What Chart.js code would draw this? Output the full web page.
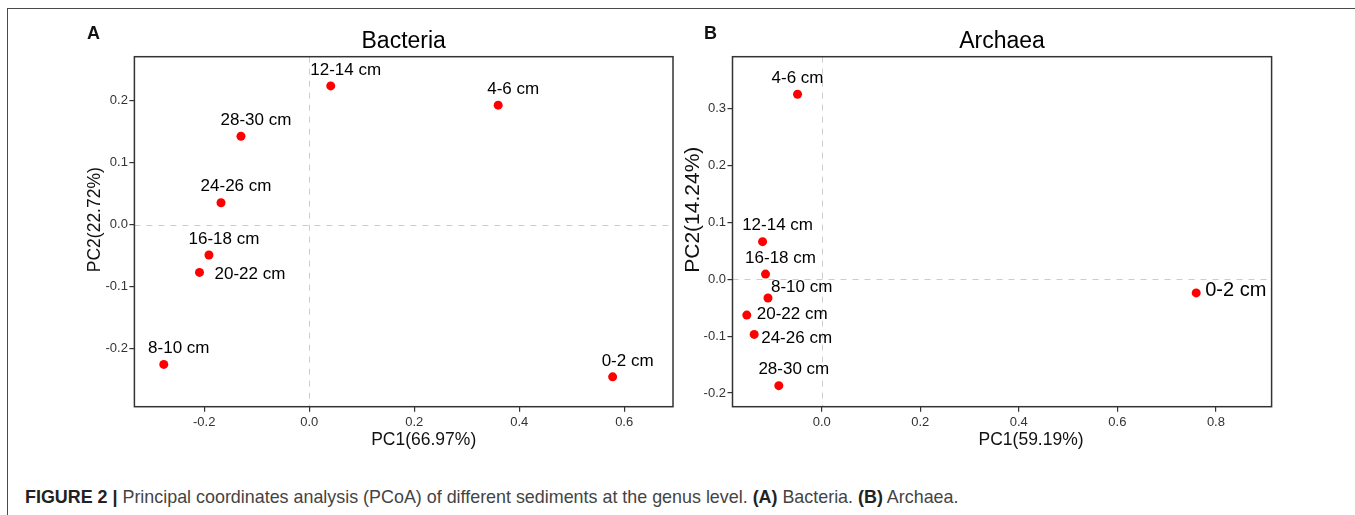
<!DOCTYPE html>
<html>
<head>
<meta charset="utf-8">
<script src="https://cdn.jsdelivr.net/npm/chart.js@4.4.1/dist/chart.umd.min.js"></script>
<style>
  html, body { margin: 0; padding: 0; background: #fff; }
  body { width: 1355px; height: 515px; position: relative; overflow: hidden;
         font-family: "Liberation Sans", Arial, sans-serif; }
  .frame { position: absolute; left: 7px; top: 8px; width: 1360px; height: 520px;
           border-top: 1.5px solid #4a4a4a; border-left: 1.5px solid #4a4a4a; }
  canvas { position: absolute; top: 0; }
  #chartA { left: 0; }
  #chartB { left: 640px; }
  .panel { position: absolute; top: 25px; font-size: 18px; line-height: 17px; font-weight: bold; color: #111; }
  .caption { position: absolute; left: 25px; top: 489px; font-size: 17.9px; line-height: 17px;
             color: #444; white-space: nowrap; }
  .caption b { color: #222; }
</style>
</head>
<body>
<div class="frame"></div>
<canvas id="chartA" width="700" height="460"></canvas>
<canvas id="chartB" width="715" height="460"></canvas>
<div class="panel" style="left:87px">A</div>
<div class="panel" style="left:704px">B</div>
<div class="caption"><b>FIGURE 2 |</b> Principal coordinates analysis (PCoA) of different sediments at the genus level. <b>(A)</b> Bacteria. <b>(B)</b> Archaea.</div>

<script>
const samples = ['0-2 cm', '4-6 cm', '8-10 cm', '12-14 cm', '16-18 cm', '20-22 cm', '24-26 cm', '28-30 cm'];

// Bacteria
const bacteriaPC1 = [0.578, 0.360, -0.277, 0.041, -0.191, -0.209, -0.168, -0.130];
const bacteriaPC2 = [-0.245, 0.192, -0.225, 0.223, -0.049, -0.077, 0.035, 0.142];
const bacteriaXTicks = [-0.2, 0.0, 0.2, 0.4, 0.6];
const bacteriaYTicks = [-0.2, -0.1, 0.0, 0.1, 0.2];

// Archaea
const archaeaPC1 = [0.760, -0.049, -0.109, -0.120, -0.114, -0.152, -0.137, -0.087];
const archaeaPC2 = [-0.024, 0.325, -0.033, 0.066, 0.009, -0.063, -0.097, -0.187];
const archaeaXTicks = [0.0, 0.2, 0.4, 0.6, 0.8];
const archaeaYTicks = [-0.2, -0.1, 0.0, 0.1, 0.2, 0.3];

// where each sample label sits next to its point
const bacteriaLabelAt = ['above', 'above', 'above', 'above', 'above', 'rightFar', 'above', 'above'];
const archaeaLabelAt = ['rightBig', 'aboveMid', 'aboveRight', 'above', 'above', 'right', 'belowRight', 'above'];

const FONT = '"Liberation Sans", Arial, sans-serif';

const labelOffsets = {
    above:      { dx: 15, dy: -16, align: 'center', size: 17 },
    aboveMid:   { dx: 0,  dy: -16, align: 'center', size: 17 },
    aboveRight: { dx: 3,  dy: -11, align: 'left',   size: 17 },
    right:      { dx: 10, dy: -1,  align: 'left',   size: 17 },
    rightFar:   { dx: 15, dy: 2,   align: 'left',   size: 17 },
    belowRight: { dx: 7,  dy: 4,   align: 'left',   size: 17 },
    rightBig:   { dx: 9,  dy: -2,  align: 'left',   size: 20 }
};

// zero lines, box, titles and sample names
const pcoaDecor = {
    id: 'pcoaDecor',
    beforeDatasetsDraw(chart) {
        const { ctx, chartArea: a, scales: { x, y } } = chart;
        const x0 = Math.round(x.getPixelForValue(0)) + 0.5;
        const y0 = Math.round(y.getPixelForValue(0)) + 0.5;
        ctx.save();
        ctx.strokeStyle = '#cccccc';
        ctx.lineWidth = 1;
        ctx.setLineDash([6, 6]);
        ctx.beginPath();
        ctx.moveTo(x0, a.top);
        ctx.lineTo(x0, a.bottom);
        ctx.moveTo(a.left, y0);
        ctx.lineTo(a.right, y0);
        ctx.stroke();
        ctx.restore();
    },
    afterDraw(chart, args, opts) {
        const { ctx, chartArea: a, scales: { x, y } } = chart;
        const midX = (a.left + a.right) / 2;
        const midY = (a.top + a.bottom) / 2;
        ctx.save();
        ctx.strokeStyle = '#333';
        ctx.lineWidth = 1.5;
        ctx.strokeRect(a.left, a.top, a.right - a.left, a.bottom - a.top);

        ctx.fillStyle = '#000';
        ctx.textBaseline = 'middle';
        ctx.textAlign = 'center';
        ctx.font = '23px ' + FONT;
        ctx.fillText(opts.title, midX, 42);

        // axis titles (the figure has them a little off centre)
        ctx.fillStyle = '#111';
        ctx.font = opts.xTitle.size + 'px ' + FONT;
        ctx.fillText(opts.xTitle.text, midX + opts.xTitle.dx, a.bottom + 33);
        ctx.save();
        ctx.font = opts.yTitle.size + 'px ' + FONT;
        ctx.translate(opts.yTitle.x, midY + opts.yTitle.dy);
        ctx.rotate(-Math.PI / 2);
        ctx.fillText(opts.yTitle.text, 0, 0);
        ctx.restore();

        ctx.fillStyle = '#000';
        chart.data.datasets[0].data.forEach((p, i) => {
            const o = labelOffsets[opts.labelAt[i]];
            ctx.font = o.size + 'px ' + FONT;
            ctx.textAlign = o.align;
            ctx.fillText(p.label, x.getPixelForValue(p.x) + o.dx, y.getPixelForValue(p.y) + o.dy);
        });
        ctx.restore();
    }
};

function axis(ticks, min, max, size, isX) {
    return {
        type: 'linear',
        min: min,
        max: max,
        border: { display: false },
        grid: { drawOnChartArea: false, drawTicks: true, tickLength: 5, color: '#333', lineWidth: 1.2 },
        ticks: {
            font: { family: FONT, size: 13 },
            color: '#333',
            padding: isX ? 3 : 1.5,
            autoSkip: false,
            callback: v => v.toFixed(1)
        },
        afterBuildTicks: s => { s.ticks = ticks.map(v => ({ value: v })); },
        afterFit: s => { if (isX) { s.height = size; } else { s.width = size; } }
    };
}

function makeChart(id, pc1, pc2, cfg) {
    return new Chart(document.getElementById(id), {
        type: 'scatter',
        data: {
            datasets: [{
                data: samples.map((s, i) => ({ x: pc1[i], y: pc2[i], label: s })),
                backgroundColor: '#ff0000',
                borderWidth: 0,
                pointRadius: 4.5
            }]
        },
        options: {
            responsive: false,
            animation: false,
            devicePixelRatio: 1,
            events: [],
            layout: { padding: cfg.padding },
            scales: { x: cfg.x, y: cfg.y },
            plugins: {
                legend: { display: false },
                tooltip: { enabled: false },
                pcoaDecor: { title: cfg.title, labelAt: cfg.labelAt, xTitle: cfg.xTitle, yTitle: cfg.yTitle }
            }
        },
        plugins: [pcoaDecor]
    });
}

makeChart('chartA', bacteriaPC1, bacteriaPC2, {
    title: 'Bacteria',
    labelAt: bacteriaLabelAt,
    xTitle: { text: 'PC1(66.97%)', size: 17.5, dx: 20 },
    yTitle: { text: 'PC2(22.72%)', size: 17.5, x: 95, dy: -12 },
    padding: { left: 84.4, top: 56.7, right: 27, bottom: 0 },
    x: axis(bacteriaXTicks, -0.333, 0.693, 53.3, true),
    y: axis(bacteriaYTicks, -0.293, 0.270, 50, false)
});

makeChart('chartB', archaeaPC1, archaeaPC2, {
    title: 'Archaea',
    labelAt: archaeaLabelAt,
    xTitle: { text: 'PC1(59.19%)', size: 17.5, dx: 29 },
    yTitle: { text: 'PC2(14.24%)', size: 21, x: 53, dy: -22 },
    padding: { left: 32.5, top: 56.7, right: 83.4, bottom: 0 },
    x: axis(archaeaXTicks, -0.181, 0.913, 53.3, true),
    y: axis(archaeaYTicks, -0.224, 0.391, 60, false)
});
</script>
</body>
</html>
